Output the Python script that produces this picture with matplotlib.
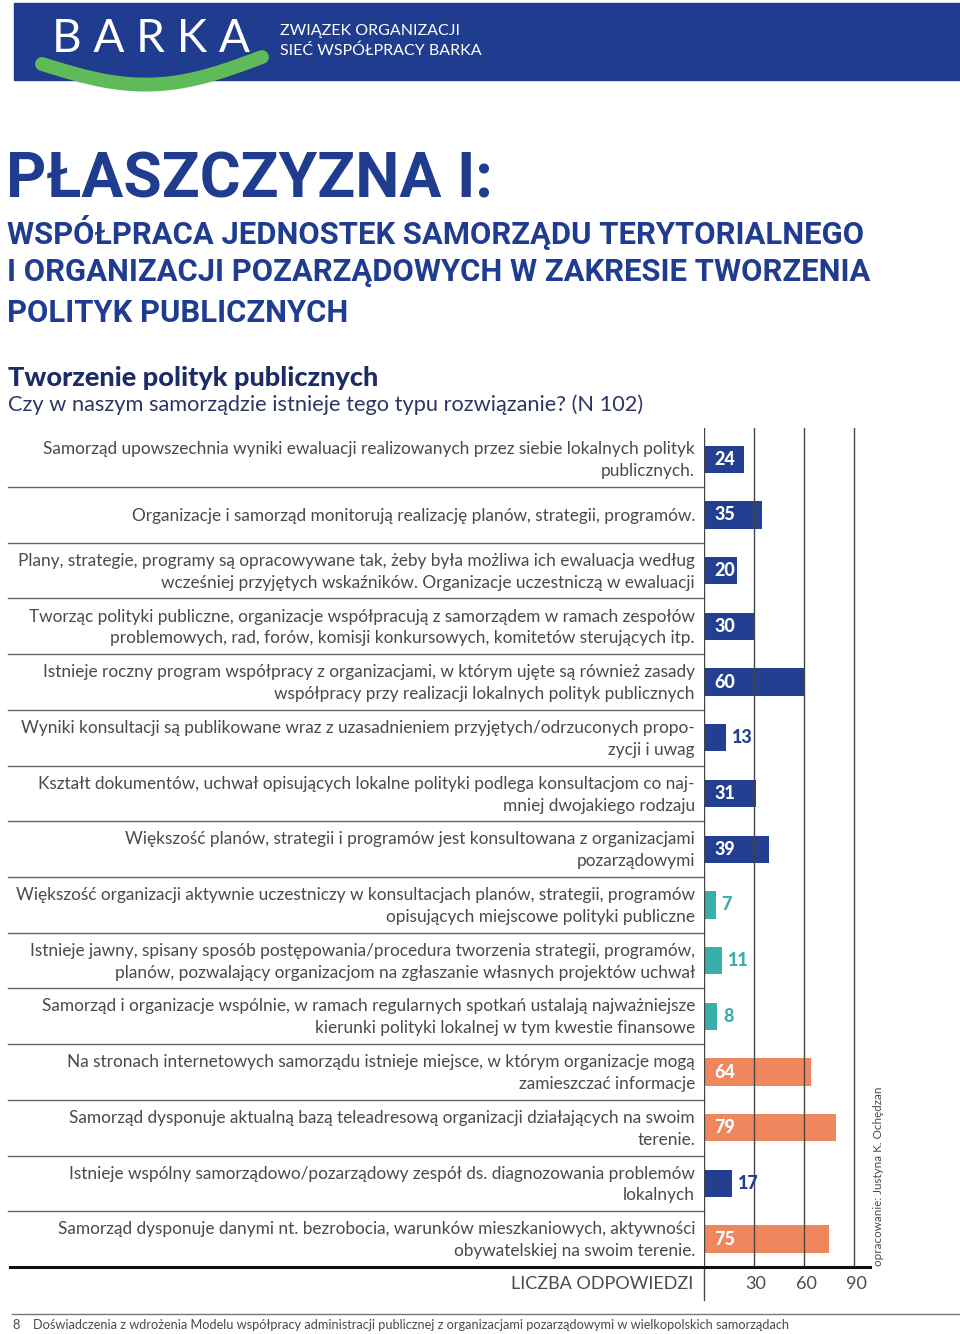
import numpy as np
import matplotlib
matplotlib.use("Agg")
import matplotlib.pyplot as plt
from matplotlib.patches import Rectangle

# data
labels = [
    "Samorząd upowszechnia wyniki ewaluacji realizowanych przez siebie lokalnych polityk\npublicznych.",
    "Organizacje i samorząd monitorują realizację planów, strategii, programów.",
    "Plany, strategie, programy są opracowywane tak, żeby była możliwa ich ewaluacja według\nwcześniej przyjętych wskaźników. Organizacje uczestniczą w ewaluacji",
    "Tworząc polityki publiczne, organizacje współpracują z samorządem w ramach zespołów\nproblemowych, rad, forów, komisji konkursowych, komitetów sterujących itp.",
    "Istnieje roczny program współpracy z organizacjami, w którym ujęte są również zasady\nwspółpracy przy realizacji lokalnych polityk publicznych",
    "Wyniki konsultacji są publikowane wraz z uzasadnieniem przyjętych/odrzuconych propo-\nzycji i uwag",
    "Kształt dokumentów, uchwał opisujących lokalne polityki podlega konsultacjom co naj-\nmniej dwojakiego rodzaju",
    "Większość planów, strategii i programów jest konsultowana z organizacjami\npozarządowymi",
    "Większość organizacji aktywnie uczestniczy w konsultacjach planów, strategii, programów\nopisujących miejscowe polityki publiczne",
    "Istnieje jawny, spisany sposób postępowania/procedura tworzenia strategii, programów,\nplanów, pozwalający organizacjom na zgłaszanie własnych projektów uchwał",
    "Samorząd i organizacje wspólnie, w ramach regularnych spotkań ustalają najważniejsze\nkierunki polityki lokalnej w tym kwestie finansowe",
    "Na stronach internetowych samorządu istnieje miejsce, w którym organizacje mogą\nzamieszczać informacje",
    "Samorząd dysponuje aktualną bazą teleadresową organizacji działających na swoim\nterenie.",
    "Istnieje wspólny samorządowo/pozarządowy zespół ds. diagnozowania problemów\nlokalnych",
    "Samorząd dysponuje danymi nt. bezrobocia, warunków mieszkaniowych, aktywności\nobywatelskiej na swoim terenie.",
]
values = [24, 35, 20, 30, 60, 13, 31, 39, 7, 11, 8, 64, 79, 17, 75]
groups = ["b", "b", "b", "b", "b", "b", "b", "b", "t", "t", "t", "s", "s", "b", "s"]
ticks = [30, 60, 90]

NAVY = "#223f92"
TEAL = "#3aaea9"
SALMON = "#f0865e"
TXT = "#4a4a4a"
gcol = {"b": NAVY, "t": TEAL, "s": SALMON}
BODY = "Lato"

fig = plt.figure(figsize=(9.6, 13.34), dpi=100)

# background axes in pixel coordinates
bg = fig.add_axes([0, 0, 1, 1])
bg.set_xlim(0, 960)
bg.set_ylim(1334, 0)
bg.axis("off")

# header
bg.add_patch(Rectangle((14, 3), 946, 77, color="#203c8e", zorder=1))
t = np.linspace(0, 1, 60)
arc_x = 42 + 220 * t
arc_y = 64 + 24 * np.sin(np.pi * t) - 7 * t
bg.plot(arc_x, arc_y, color="#5fbb5a", lw=10, solid_capstyle="round", zorder=2)
bg.text(151, 39, "B A R K A", color="white", fontsize=33, family=BODY,
        ha="center", va="center", zorder=3)
bg.text(280, 31, "ZWIĄZEK ORGANIZACJI", color="white", fontsize=11.5,
        family=BODY, va="center")
bg.text(280, 51, "SIEĆ WSPÓŁPRACY BARKA", color="white", fontsize=11.5,
        family=BODY, va="center")

# titles
TITLE = "#203c8e"
bg.text(6, 180, "PŁASZCZYZNA I:", color=TITLE, fontsize=45, family="Roboto",
        weight="bold", va="center")
for y, line in zip([232, 272, 313],
                   ["WSPÓŁPRACA JEDNOSTEK SAMORZĄDU TERYTORIALNEGO",
                    "I ORGANIZACJI POZARZĄDOWYCH W ZAKRESIE TWORZENIA",
                    "POLITYK PUBLICZNYCH"]):
    bg.text(7, y, line, color=TITLE, fontsize=22.3, family="Roboto",
            weight="bold", va="center")
bg.text(8, 378, "Tworzenie polityk publicznych", color="#1c2c66", fontsize=19.5,
        family="Lato", weight="black", va="center")
bg.text(8, 405, "Czy w naszym samorządzie istnieje tego typu rozwiązanie? (N 102)",
        color="#2e3560", fontsize=15.7, family=BODY, va="center")

# footer
bg.plot([12, 960], [1314, 1314], color="#777777", lw=1)
bg.text(12, 1325, "8", color=TXT, fontsize=9.2, family=BODY, va="center")
bg.text(33, 1325, "Doświadczenia z wdrożenia Modelu współpracy administracji publicznej "
        "z organizacjami pozarządowymi w wielkopolskich samorządach",
        color=TXT, fontsize=9.2, family=BODY, va="center")
bg.text(878, 1266, "opracowanie: Justyna K. Ochędzan", color=TXT, fontsize=8.4,
        family=BODY, rotation=90, ha="center", va="bottom")

# chart axes
x0, x1, ytop, ybot = 704, 870, 428, 1267
ax = fig.add_axes([x0 / 960, (1334 - ybot) / 1334, (x1 - x0) / 960, (ybot - ytop) / 1334])
ax.set_facecolor("none")
upx = 50 / 30  # pixels per unit
ax.set_xlim(0, (x1 - x0) / upx)
ax.set_ylim(14.5, -0.56)
ax.axis("off")

ypos = np.arange(len(values))
cols = [gcol[g] for g in groups]
ax.barh(ypos, values, height=0.49, color=cols, zorder=2)
for v in ticks:
    ax.axvline(v, color="#444444", lw=1, zorder=3)
ax.axvline(0, color="#444444", lw=1, zorder=3)

left = (8 - x0) / upx
for i in range(len(values) - 1):
    ax.plot([left, 0], [i + 0.5, i + 0.5], color="#666666", lw=1, clip_on=False)
ax.plot([(10 - x0) / upx, ax.get_xlim()[1]], [14.5, 14.5], color="#111111",
        lw=2.2, clip_on=False, zorder=4)

for i, (lab, v, c) in enumerate(zip(labels, values, cols)):
    ax.text(-5.4, i + 0.02, lab, ha="right", va="center", multialignment="right",
            fontsize=12.4, family=BODY, color=TXT, linespacing=1.45, clip_on=False)
    if v >= 20:
        ax.text(6, i, str(v), ha="left", va="center", color="white", fontsize=13,
                family="Lato", weight="black", zorder=5)
    else:
        ax.text(v + 3.5, i, str(v), ha="left", va="center", color=c, fontsize=13,
                family="Lato", weight="black", zorder=5)

# bottom axis row
bg.plot([x0, x0], [ybot, 1300], color="#444444", lw=1)
bg.text(693, 1284, "LICZBA ODPOWIEDZI", ha="right", va="center", fontsize=13,
        family=BODY, color=TXT)
for v in ticks:
    bg.text(x0 + v * upx + 2, 1284, str(v), ha="center", va="center", fontsize=13,
            family=BODY, color=TXT)

fig.savefig("out.png", dpi=100)
